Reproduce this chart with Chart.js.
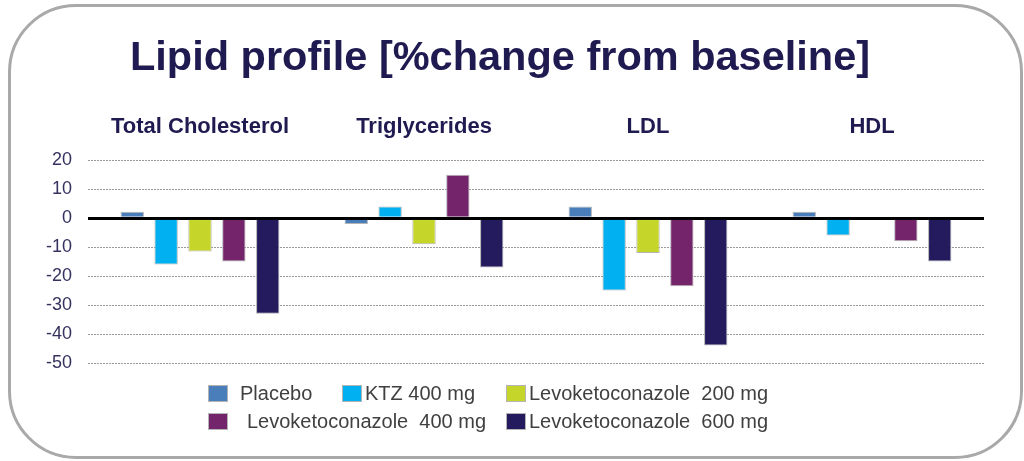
<!DOCTYPE html>
<html>
<head>
<meta charset="utf-8">
<script src="https://cdn.jsdelivr.net/npm/chart.js@4"></script>
<style>
  html, body { margin: 0; padding: 0; background: #fff; }
  #wrap { position: relative; width: 1024px; height: 461px; overflow: hidden; }
  #frame {
    position: absolute; left: 8px; top: 4px; width: 1015px; height: 455px;
    box-sizing: border-box; border: 3px solid #a9a9a9; border-radius: 68px;
  }
  #chart { position: absolute; left: 0; top: 0; }
  .lg-item { position: absolute; height: 17px; }
  .lg-box { position: absolute; top: 0; width: 20px; height: 17px; box-sizing: border-box; border: 1px solid #b4b4b4; }
  .lg-text {
    position: absolute; top: -3px; white-space: pre;
    font-family: "Liberation Sans", Arial, sans-serif; font-size: 20px; color: #404040;
    line-height: 22px;
  }
</style>
</head>
<body>
<div id="wrap">
  <div id="frame"></div>
  <canvas id="chart" width="1024" height="461"></canvas>
  <div id="legend"></div>
</div>
<script>
var categories = ['Total Cholesterol', 'Triglycerides', 'LDL', 'HDL'];
var seriesNames = ['Placebo', 'KTZ 400 mg', 'Levoketoconazole  200 mg', 'Levoketoconazole  400 mg', 'Levoketoconazole  600 mg'];
var placebo = [2.2, -2, 4, 2.2];
var ktz400 = [-16, 4, -25, -6];
var levo200 = [-11.5, -9, -12, null];
var levo400 = [-15, 15, -23.5, -8];
var levo600 = [-33, -17, -44, -15];
var yTicks = [20, 10, 0, -10, -20, -30, -40, -50];

var colors = ['#4a7ebb', '#00b0f0', '#c6d52a', '#73246a', '#231b5e'];
var values = [placebo, ktz400, levo200, levo400, levo600];

var datasets = values.map(function (v, i) {
  return {
    label: seriesNames[i],
    data: v,
    backgroundColor: colors[i],
    borderColor: '#b4b4b4',
    borderWidth: 1,
    categoryPercentage: 0.756,
    barPercentage: 0.69
  };
});

var navy = '#1f1a50';

var chart = new Chart(document.getElementById('chart'), {
  type: 'bar',
  data: { labels: categories, datasets: datasets },
  options: {
    responsive: false,
    animation: false,
    layout: { padding: { left: 16, right: 40, top: 0, bottom: 98 } },
    plugins: {
      legend: { display: false },
      tooltip: { enabled: false },
      title: {
        display: true,
        text: 'Lipid profile [%change from baseline]',
        color: navy,
        font: { family: 'Liberation Sans', size: 41.5, weight: 'bold' },
        padding: { top: 34, bottom: 10 }
      }
    },
    scales: {
      x: {
        position: 'top',
        grid: { display: false, drawTicks: false },
        border: { display: false },
        ticks: {
          color: navy,
          padding: 20,
          font: { family: 'Liberation Sans', size: 22, weight: 'bold' }
        }
      },
      y: {
        min: Math.min.apply(null, yTicks),
        max: Math.max.apply(null, yTicks),
        afterBuildTicks: function (scale) {
          scale.ticks = yTicks.map(function (t) { return { value: t }; });
        },
        afterFit: function (scale) { scale.width = 72; },
        grid: {
          drawTicks: false,
          color: function (ctx) { return ctx.tick && ctx.tick.value === 0 ? '#000' : '#9a9a9a'; },
          lineWidth: function (ctx) { return ctx.tick && ctx.tick.value === 0 ? 3 : 1; }
        },
        border: {
          display: false,
          dash: function (ctx) { return ctx.tick && ctx.tick.value === 0 ? [] : [2, 1]; }
        },
        ticks: {
          color: '#35325e',
          padding: 16,
          font: { family: 'Liberation Sans', size: 18 }
        }
      }
    }
  }
});

// legend laid out like the original two rows
var slots = [
  { left: 208, top: 385, textLeft: 32 },
  { left: 342, top: 385, textLeft: 23 },
  { left: 506, top: 385, textLeft: 23 },
  { left: 208, top: 413, textLeft: 39 },
  { left: 506, top: 413, textLeft: 23 }
];
var legend = document.getElementById('legend');
chart.data.datasets.forEach(function (ds, i) {
  var item = document.createElement('div');
  item.className = 'lg-item';
  item.style.left = slots[i].left + 'px';
  item.style.top = slots[i].top + 'px';
  var box = document.createElement('div');
  box.className = 'lg-box';
  box.style.background = ds.backgroundColor;
  var txt = document.createElement('div');
  txt.className = 'lg-text';
  txt.style.left = slots[i].textLeft + 'px';
  txt.textContent = ds.label;
  item.appendChild(box);
  item.appendChild(txt);
  legend.appendChild(item);
});
</script>
</body>
</html>
